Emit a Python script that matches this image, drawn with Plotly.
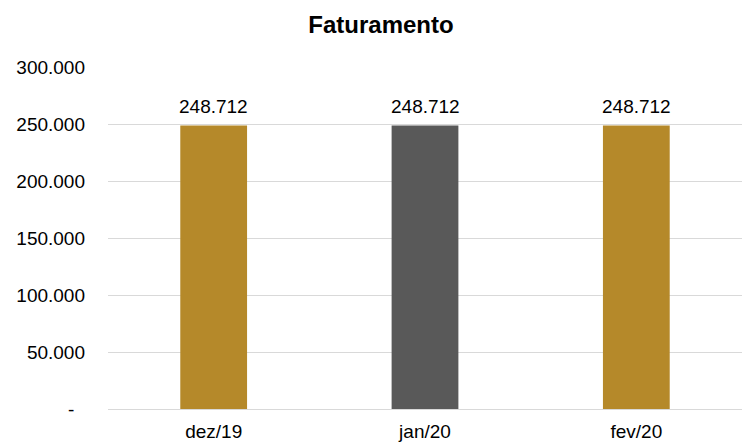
import plotly.graph_objects as go

categories = ["dez/19", "jan/20", "fev/20"]
values = [248712, 248712, 248712]
labels = ["248.712", "248.712", "248.712"]
colors = ["#B5892A", "#595959", "#B5892A"]
ytick_vals = [0, 50000, 100000, 150000, 200000, 250000, 300000]
ytick_text = ["-\u00a0\u00a0", "50.000", "100.000", "150.000", "200.000", "250.000", "300.000"]

FONT = "Liberation Sans, Arial"

fig = go.Figure(go.Bar(
    x=categories, y=values,
    marker=dict(color=colors, line=dict(width=0)),
    width=0.316,
))
for c, v, t in zip(categories, values, labels):
    fig.add_annotation(x=c, y=v, text=t, showarrow=False, yanchor="bottom",
                       yshift=6, font=dict(size=19, color="#000000", family=FONT))

fig.update_layout(
    width=742, height=443,
    margin=dict(l=108, r=0, t=67, b=34),
    paper_bgcolor="white", plot_bgcolor="white",
    font=dict(family=FONT, size=19, color="#000000"),
    title=dict(text="<b>Faturamento</b>", x=381/742, xref="container", xanchor="center",
               y=1 - 25/443, yref="container", yanchor="middle",
               font=dict(size=24, color="#000000", family=FONT)),
    showlegend=False,
)
fig.update_xaxes(showgrid=False, showline=False, ticks="", tickfont=dict(size=19),
                 ticklabelstandoff=9)
fig.update_yaxes(range=[0, 300000], tickvals=ytick_vals, ticktext=ytick_text,
                 showgrid=True, gridcolor="#D9D9D9", gridwidth=1,
                 zeroline=True, zerolinecolor="#D9D9D9", zerolinewidth=1,
                 showline=False, ticks="", ticklabelstandoff=22,
                 tickfont=dict(size=19))
fig.write_html("out.html", config={"displayModeBar": False},
               post_script="document.body.style.margin='0';document.body.style.overflow='hidden';")
